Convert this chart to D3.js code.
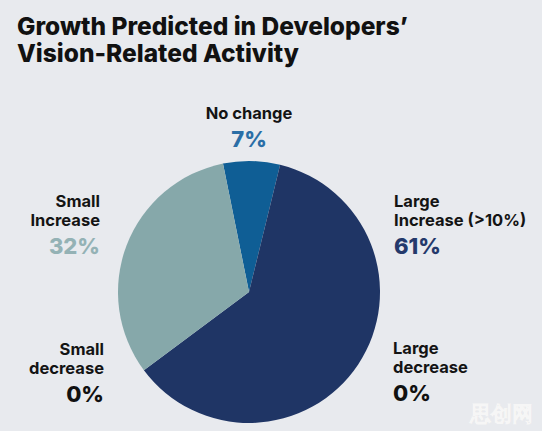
<!DOCTYPE html>
<html>
<head>
<meta charset="utf-8">
<script src="https://cdn.jsdelivr.net/npm/d3@7"></script>
<style>
  html, body { margin: 0; padding: 0; background: #e8eaee; }
  svg { display: block; }
  text { font-family: Inter, "Open Sans", sans-serif; }
</style>
</head>
<body>
<div class="app"></div>
<script>
// chart data
var categories = ["No change", "Large Increase (>10%)", "Large decrease", "Small decrease", "Small Increase"];
var values = [7, 61, 0, 0, 32];
var sliceColors = ["#0f5e95", "#1f3565", "#1f3565", "#86a8aa", "#86a8aa"];
var titleLines = ["Growth Predicted in Developers\u2019", "Vision-Related Activity"];

var width = 542, height = 431;
var cx = 249, cy = 292, radius = 131;

var svg = d3.select(".app").append("svg")
    .attr("width", width)
    .attr("height", height);

svg.append("rect").attr("width", width).attr("height", height).attr("fill", "#e8eaee");

// title
svg.append("g").selectAll("text")
    .data(titleLines)
    .enter()
    .append("text")
    .attr("x", 17)
    .attr("y", function(d, i){ return 35 + i * 27; })
    .attr("font-size", 24.5)
    .attr("font-weight", 800)
    .attr("fill", "#111")
    .text(function(d){ return d; });

// pie, starting a little left of 12 o'clock
var data = categories.map(function(c, i){ return {name: c, value: values[i], color: sliceColors[i]}; });

var pie = d3.pie()
    .sort(null)
    .value(function(d){ return d.value; })
    .startAngle(-0.2)
    .endAngle(-0.2 + 2 * Math.PI);

var arc = d3.arc().innerRadius(0).outerRadius(radius);

svg.append("g")
    .attr("transform", "translate(" + cx + "," + cy + ")")
    .selectAll("path")
    .data(pie(data).filter(function(d){ return d.data.value > 0; }))
    .enter()
    .append("path")
    .attr("d", arc)
    .attr("fill", function(d){ return d.data.color; });

// labels: lines of the name, then the percent
var labels = [
    {lines: ["No change"], pct: values[0], x: 249, y: 119, anchor: "middle", pctColor: "#2a6ea6"},
    {lines: ["Large", "Increase (>10%)"], pct: values[1], x: 394, y: 207, anchor: "start", pctColor: "#24396b"},
    {lines: ["Large", "decrease"], pct: values[2], x: 393, y: 354, anchor: "start", pctColor: "#111"},
    {lines: ["Small", "decrease"], pct: values[3], x: 104, y: 355, anchor: "end", pctColor: "#111"},
    {lines: ["Small", "Increase"], pct: values[4], x: 100, y: 207, anchor: "end", pctColor: "#94b2b5"}
];

var lab = svg.append("g").selectAll("g")
    .data(labels)
    .enter()
    .append("g");

lab.each(function(d){
    var g = d3.select(this);
    d.lines.forEach(function(l, i){
        g.append("text")
            .attr("x", d.x)
            .attr("y", d.y + i * 19)
            .attr("text-anchor", d.anchor)
            .attr("font-size", 16.5)
            .attr("font-weight", 700)
            .attr("fill", "#141414")
            .text(l);
    });
    g.append("text")
        .attr("x", d.x)
        .attr("y", d.y + (d.lines.length - 1) * 19 + 28)
        .attr("text-anchor", d.anchor)
        .attr("font-size", 22)
        .attr("font-weight", 800)
        .attr("fill", d.pctColor)
        .text(d.pct + "%");
});

// watermark
svg.append("text")
    .attr("x", 533)
    .attr("y", 421)
    .attr("text-anchor", "end")
    .attr("font-family", "Noto Sans CJK SC")
    .attr("font-size", 21)
    .attr("font-weight", 900)
    .attr("fill", "#ababab")
    .attr("stroke", "#f6f6f6")
    .attr("stroke-width", 0.8)
    .text("思创网");
</script>
</body>
</html>
